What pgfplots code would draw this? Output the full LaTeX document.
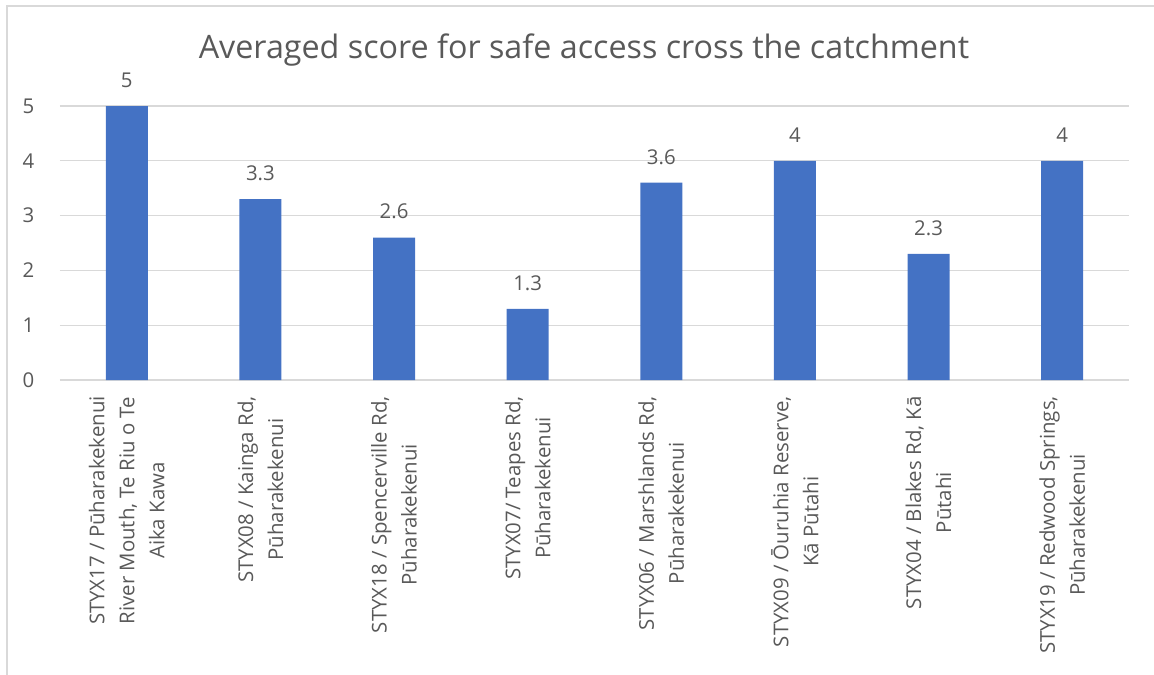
\documentclass[border=0pt]{standalone}
\usepackage{fontspec}
\setmainfont{Open Sans}
\usepackage{pgfplots}
\pgfplotsset{compat=1.18}

\definecolor{barblue}{HTML}{4472C4}
\definecolor{txtgray}{HTML}{595959}
\definecolor{gridgray}{HTML}{D9D9D9}

\begin{document}
\begin{tikzpicture}
% page is 1154 x 675 px at 0.75pt per px
\useasboundingbox (0,0) rectangle (865.5pt,-506.25pt);
\draw[gridgray, line width=1.2pt] (5.2pt,-506.25pt) -- (5.2pt,-4.6pt) -- (865.5pt,-4.6pt);

\begin{axis}[
    at={(45pt,-285pt)}, anchor=south west,
    scale only axis,
    width=801.75pt, height=205.5pt,
    ybar, bar width=31.5pt,
    xmin=-0.5, xmax=7.5,
    ymin=0, ymax=5,
    xtick={0,...,7},
    xticklabels={
        {STYX17 / Pūharakekenui\\River Mouth, Te Riu o Te\\Aika Kawa},
        {STYX08 / Kainga Rd,\\Pūharakekenui},
        {STYX18 / Spencerville Rd,\\Pūharakekenui},
        {STYX07/ Teapes Rd,\\Pūharakekenui},
        {STYX06 / Marshlands Rd,\\Pūharakekenui},
        {STYX09 / Ōuruhia Reserve,\\Kā Pūtahi},
        {STYX04 / Blakes Rd, Kā\\Pūtahi},
        {STYX19 / Redwood Springs,\\Pūharakekenui}},
    ytick={0,1,2,3,4,5},
    ymajorgrids,
    major grid style={gridgray, line width=1pt},
    axis line style={draw=none},
    major tick length=0pt,
    /pgf/number format/assume math mode=true,
    tick label style={font=\fontsize{15.3}{22.5}\selectfont, text=txtgray},
    xticklabel style={rotate=90, anchor=east, align=center, inner sep=0pt},
    xticklabel shift=12pt,
    yticklabel style={inner sep=0pt},
    yticklabel shift=19pt,
    nodes near coords,
    nodes near coords style={font=\fontsize{15.3}{20}\selectfont, text=txtgray, inner sep=0pt, anchor=south, yshift=13.5pt},
    clip=false,
]
\addplot[fill=barblue, draw=none] coordinates {
    (0,5) (1,3.3) (2,2.6) (3,1.3) (4,3.6) (5,4) (6,2.3) (7,4)
};
\end{axis}

\node[text=txtgray, font=\fontsize{24.2}{29}\selectfont] at (438pt,-37.5pt) {Averaged score for safe access cross the catchment};
\end{tikzpicture}
\end{document}
